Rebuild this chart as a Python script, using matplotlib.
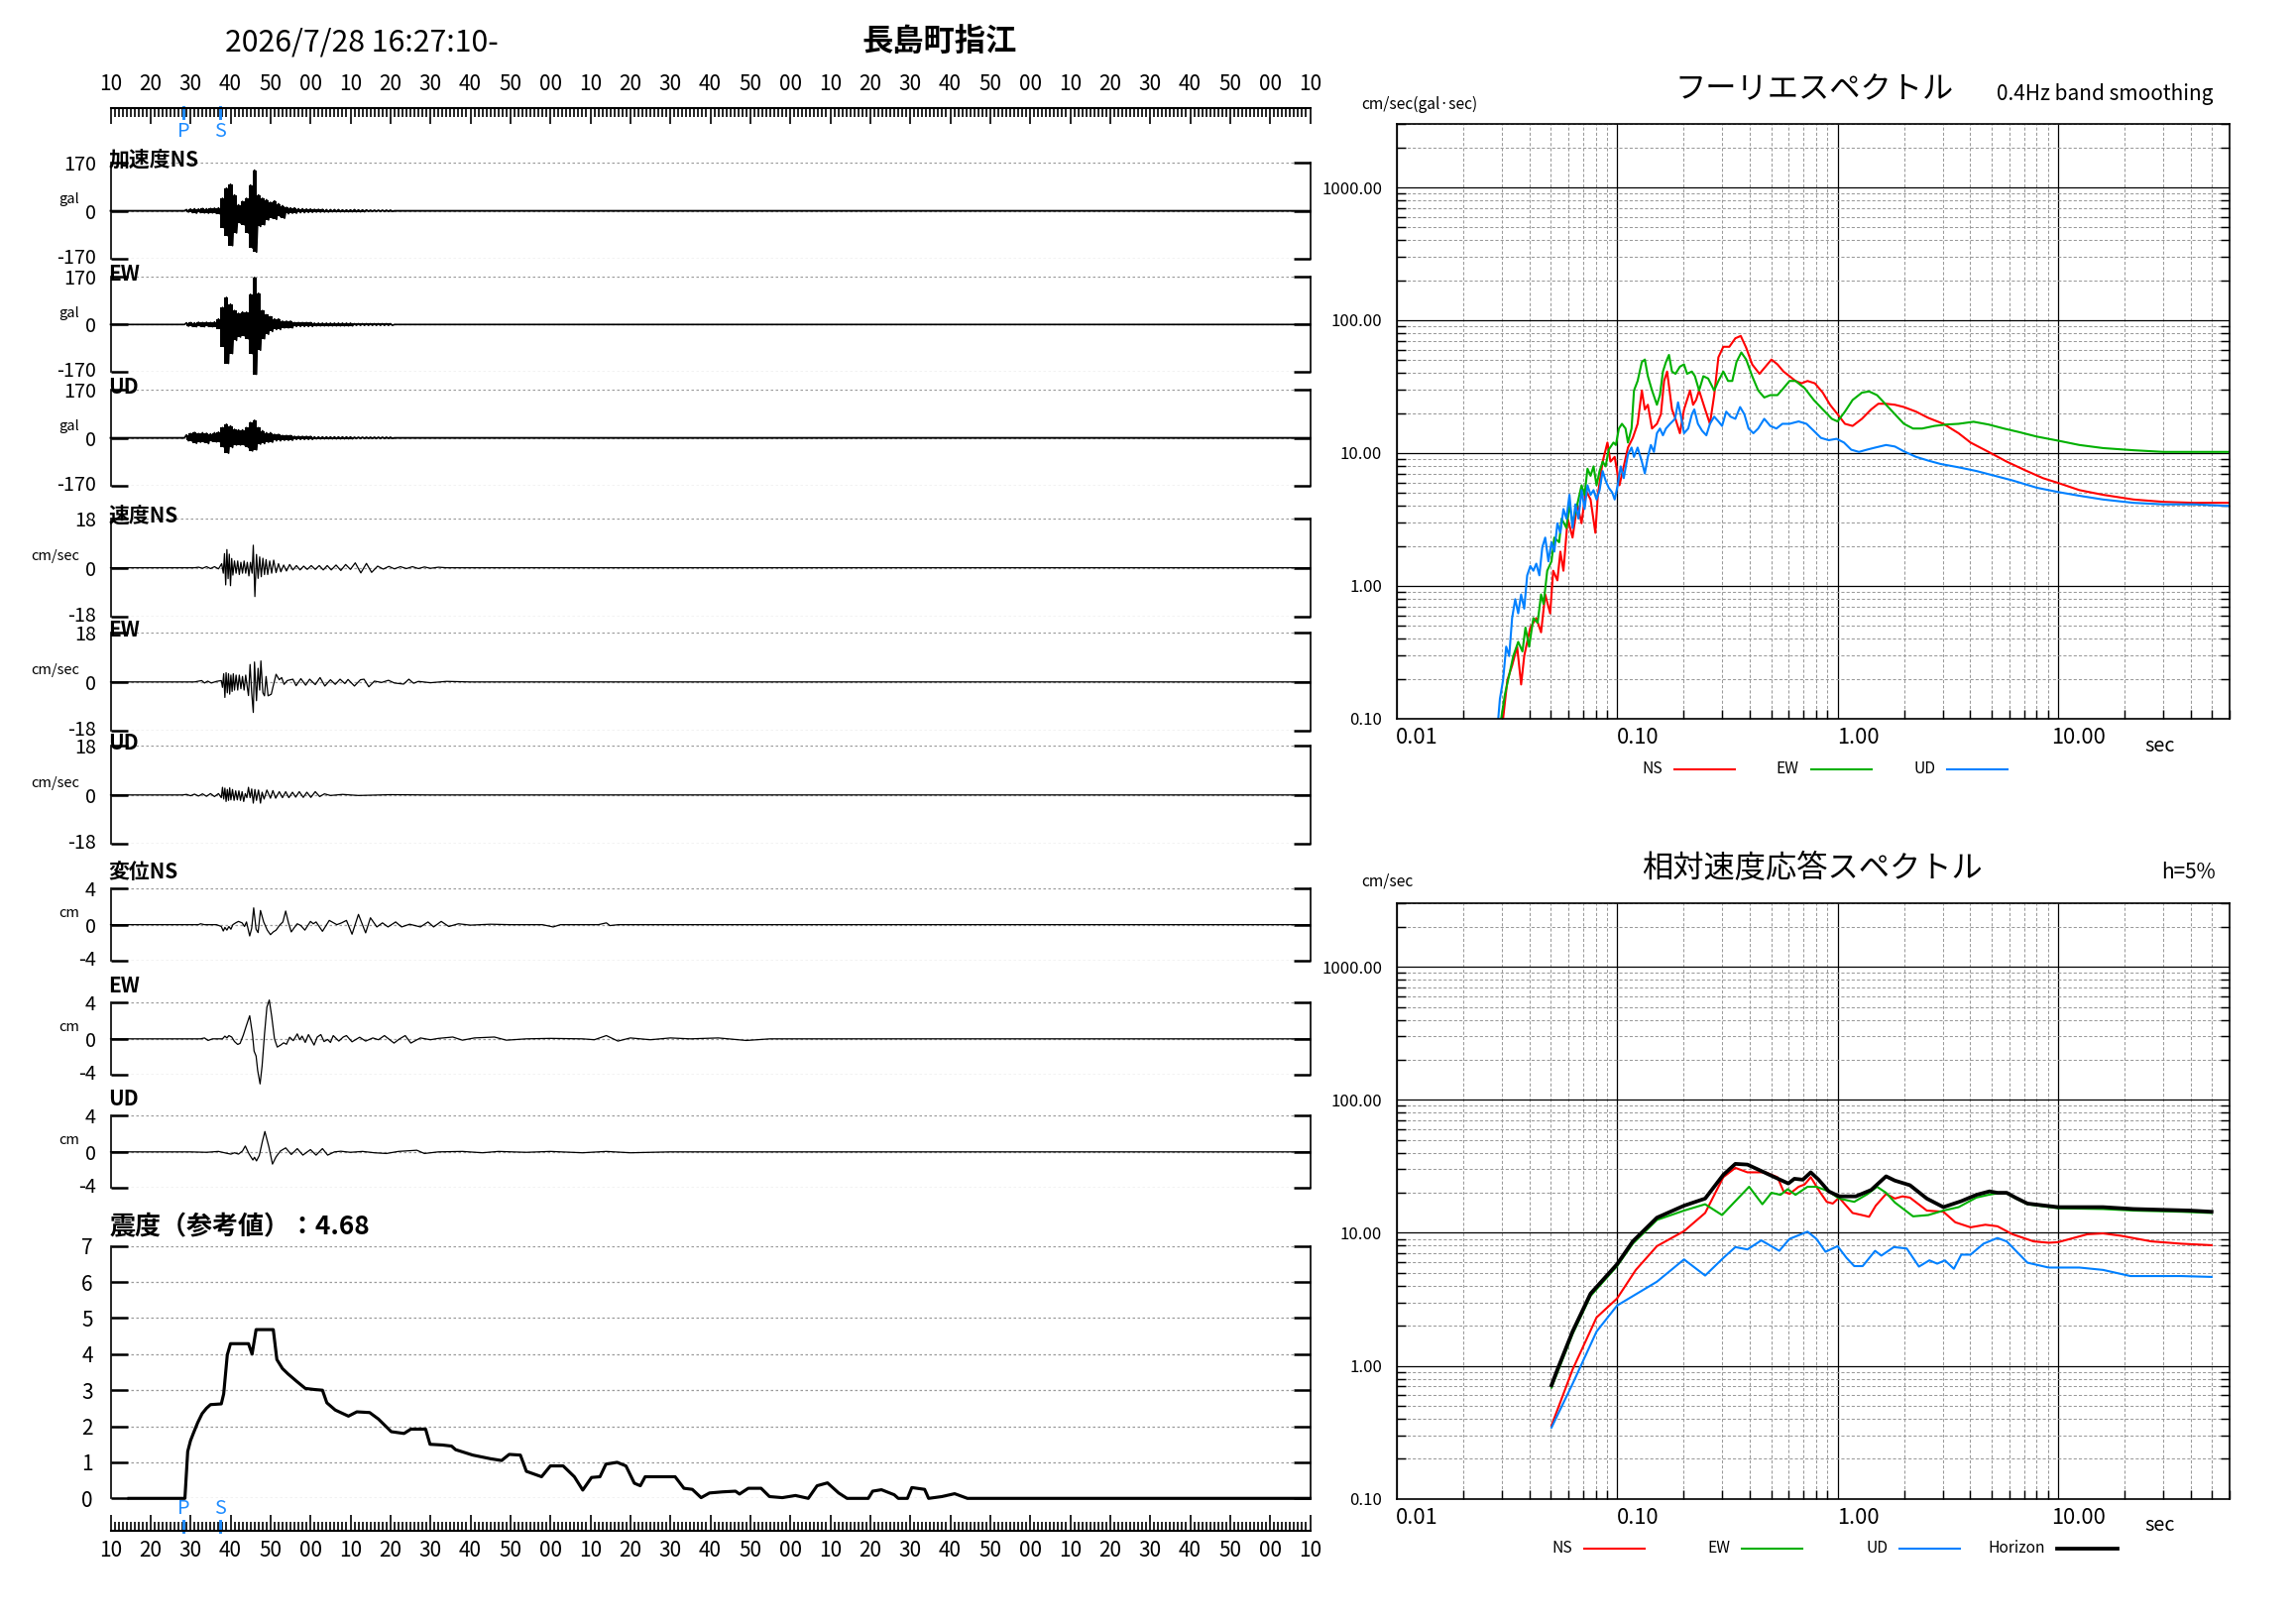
import matplotlib
matplotlib.use('Agg')
import matplotlib.pyplot as plt
from matplotlib.ticker import FixedLocator, LogLocator, NullFormatter
from matplotlib.transforms import ScaledTranslation
from matplotlib.lines import Line2D

plt.rcParams['font.family'] = ['Noto Sans CJK JP', 'DejaVu Sans']

# ---------------- data ----------------
start_sec = 10          # 16:27:10
p_time = 18.2
s_time = 27.4
intensity_value = 4.68

# acceleration envelope (gal), one value per second from 19 s to 70 s
acc_t = list(range(19, 71))
acc_ns_hi = [4, 6, 7, 6, 8, 7, 8, 9, 10, 44,
             80, 94, 56, 21, 33, 44, 91, 144, 56, 44,
             39, 30, 35, 25, 18, 12, 10, 10, 7, 7,
             6, 6, 5, 5, 5, 4, 4, 4, 4, 3,
             3, 3, 4, 3, 3, 3, 2, 2, 2, 2,
             2, 2]
acc_ns_lo = [-4, -6, -8, -6, -7, -8, -7, -9, -12, -61,
             -90, -123, -78, -43, -49, -78, -131, -146, -55, -49,
             -32, -25, -30, -20, -26, -10, -8, -8, -6, -6,
             -5, -5, -4, -4, -4, -4, -3, -3, -3, -3,
             -3, -3, -3, -3, -3, -2, -2, -2, -2, -2,
             -2, -2]
acc_ew_hi = [6, 7, 6, 8, 7, 8, 7, 9, 20, 61,
             97, 73, 50, 40, 45, 44, 108, 168, 112, 50,
             35, 28, 20, 20, 12, 12, 12, 7, 7, 7,
             7, 7, 5, 5, 5, 5, 5, 5, 5, 5,
             5, 5, 3, 3, 3, 3, 3, 3, 3, 3,
             3, 3]
acc_ew_lo = [-6, -7, -8, -6, -8, -7, -8, -8, -15, -80,
             -139, -104, -57, -45, -40, -51, -104, -178, -92, -51,
             -35, -25, -18, -18, -12, -12, -12, -7, -7, -7,
             -7, -7, -5, -5, -5, -5, -5, -5, -5, -5,
             -5, -5, -3, -3, -3, -3, -3, -3, -3, -3,
             -3, -3]
acc_ud_hi = [10, 15, 19, 15, 18, 16, 14, 18, 20, 36,
             48, 42, 30, 28, 28, 36, 54, 62, 36, 25,
             18, 18, 12, 12, 8, 8, 8, 5, 5, 5,
             5, 5, 3, 3, 3, 3, 3, 3, 3, 3,
             3, 3, 2, 2, 2, 2, 2, 2, 2, 2,
             2, 2]
acc_ud_lo = [-10, -12, -19, -15, -15, -20, -12, -14, -15, -34,
             -54, -34, -25, -25, -25, -34, -46, -42, -22, -20,
             -15, -15, -10, -10, -8, -8, -8, -5, -5, -5,
             -5, -5, -3, -3, -3, -3, -3, -3, -3, -3,
             -3, -3, -2, -2, -2, -2, -2, -2, -2, -2,
             -2, -2]

# velocity (cm/sec), (time s, value) at extrema
vel_ns = [(0, 0), (21, 0), (22, 0.2), (23, -0.2), (24, 0.4), (25, -0.3), (26, 0.4), (27, -0.4),
          (27.8, 1.5), (28.2, -2), (28.5, 5.2), (28.8, -6.3), (29.1, 6.7), (29.4, -4), (29.7, 5),
          (30, -6.6), (30.3, 3.4), (30.6, -2.7), (31, 2.5), (31.4, -2), (31.8, 2.5), (32.2, -2.5),
          (32.6, 2), (33, -2), (33.4, 2.5), (33.8, -2), (34.2, 2), (34.6, -3), (35, 2), (35.4, -2),
          (35.7, 8.3), (36.1, -10.6), (36.5, 4.9), (36.9, -3.9), (37.3, 4), (37.7, -3.3), (38.1, 3.5),
          (38.5, -2.5), (38.9, 3), (39.3, -2.5), (39.8, 2.5), (40.3, -2), (40.8, 2.8), (41.4, -1.8),
          (42, 1.5), (42.6, -1.5), (43.3, 1), (44, -1.2), (44.8, 1.2), (45.6, -0.8), (46.5, 0.8),
          (47.4, -0.8), (48.3, 0.6), (49.2, -0.6), (50.2, 0.8), (51.2, -0.6), (52.2, 0.8), (53.2, -0.8),
          (54.2, 0.8), (55.2, -0.8), (56.4, 1), (57.6, -1), (58.8, 1.2), (60, -0.6), (61.2, 1.8),
          (62.6, -1.9), (64, 1.6), (65.3, -1.7), (66.8, 0.6), (68.2, -0.5), (69.6, 0.5), (71, -0.4),
          (72.5, 0.4), (74, -0.3), (75.5, 0.4), (77, -0.3), (78.5, 0.3), (80, -0.2), (82, 0.2),
          (84, 0), (300, 0)]
vel_ew = [(0, 0), (21, 0), (22.8, 0.5), (23.5, -0.4), (24.3, 0.3), (25.2, -0.4), (26.5, 0.2),
          (27.7, 0.5), (28, -2), (28.3, 3), (28.6, -5.7), (28.9, 3.4), (29.2, -4), (29.5, 3),
          (29.8, -4.5), (30.1, 2.5), (30.4, -3.5), (30.7, 3), (31, -3), (31.4, 2.5), (31.8, -3),
          (32.2, 2.5), (32.6, -2.5), (33, 2), (33.4, -3), (33.8, 2.5), (34.2, -2), (34.5, -5),
          (34.9, 6.4), (35.3, -4), (35.7, -11.2), (36.0, 7.3), (36.5, -6.9), (36.9, 5), (37.3, -3),
          (37.6, 7.7), (38.1, -4), (38.5, -5.1), (38.9, 2), (39.4, -5.1), (40.2, -4.5), (40.6, -2),
          (41.4, 2.8), (42.2, 0.8), (42.8, 1.6), (43.4, -0.9), (44.2, 0.5), (45.6, 1), (46.4, -1.4),
          (47.6, 1.2), (48.8, -1.2), (49.8, 1), (51.2, -1), (52.4, 1.6), (53.6, -1.5), (55, 0.8),
          (56.2, -0.9), (57.4, 1), (58.6, -0.6), (59.4, 0.9), (61, -1.5), (62.5, 0.8), (63.4, 1),
          (64.6, -1.8), (66, 0.3), (67.8, -0.2), (69.5, 0.6), (71, -0.4), (73.3, -0.8), (74.6, 1),
          (75.8, -0.5), (77, 0.2), (80, -0.3), (84, 0.2), (90, 0), (300, 0)]
vel_ud = [(0, 0), (18, 0), (19, 0.2), (20, -0.3), (21, 0.3), (22, -0.4), (23, 0.4), (24, -0.5),
          (25, 0.5), (26, -0.6), (27, 0.5), (27.7, -1), (28, 2.8), (28.3, -1.5), (28.6, 2.5),
          (28.9, -2.4), (29.2, 2), (29.5, -2), (29.8, 2.6), (30.1, -1.8), (30.5, 2), (30.9, -2),
          (31.3, 1.5), (31.7, -1.8), (32.1, 1.5), (32.5, -2), (32.9, 1.2), (33.3, -2.4), (33.7, 0.5),
          (34.1, -1), (34.5, 2.8), (34.9, -1), (35.3, 2.2), (35.7, -3), (36.1, 2), (36.5, -2),
          (37, 1.8), (37.5, -3), (37.9, 1), (38.4, -1.5), (39.1, 1.8), (40, -1.2), (40.6, 1.6),
          (41.3, -1.2), (42.2, 1.2), (43, -1), (43.8, 1.2), (44.6, -1), (45.5, 1), (46.3, -0.8),
          (47.2, 1.2), (48.2, -0.9), (49.1, 1.0), (50.1, -0.9), (51.2, 1.2), (52.3, -0.6),
          (53.5, 0.4), (55, -0.2), (58, 0.2), (62, -0.2), (70, 0.1), (80, 0), (300, 0)]

# displacement (cm), (time s, value) at extrema
disp_ns = [(0, 0), (22, 0), (22.5, 0.1), (23.5, 0), (26.5, 0), (27.7, -0.2), (28.2, -0.7), (28.6, -0.3),
           (29.1, -0.6), (29.6, -0.2), (30.1, -0.5), (30.6, 0), (31.3, 0.2), (32.0, 0.36), (32.9, 0.2),
           (33.5, -0.2), (34.0, 0.3), (34.8, -1.24), (35.3, -0.4), (35.8, 1.85), (36.4, -0.5),
           (36.9, -0.87), (37.5, 1.56), (38.3, 0.3), (39.2, -0.6), (40.0, -1.1), (40.7, -0.8),
           (41.4, -0.6), (42.4, 0), (43.1, 0.3), (43.8, 1.5), (44.5, 0.2), (45.2, -0.8), (46.0, -0.3),
           (46.7, 0.1), (47.6, -0.1), (48.6, -0.6), (50.0, 0.36), (50.7, 0.1), (51.4, 0.3),
           (53.0, -0.73), (54.7, 0.47), (56.6, 0), (57.8, 0.2), (59.0, 0.47), (60.4, -1.05),
           (62.0, 1.13), (63.8, -0.9), (65.0, 0.76), (66.6, -0.25), (68.0, 0.2), (69.4, -0.25),
           (71.3, 0.3), (72.8, -0.25), (74.8, 0.05), (77.5, -0.25), (79.4, 0.3), (80.8, -0.25),
           (82.7, 0.36), (84.6, -0.2), (87, 0.1), (90, -0.05), (95, 0.05), (100, 0), (108, 0),
           (110.7, -0.25), (112.5, 0), (122, 0), (124, 0.2), (124.9, -0.1), (127, 0), (300, 0)]
disp_ew = [(0, 0), (22.5, 0), (23.5, 0.1), (24.4, -0.18), (25.5, 0), (28, 0), (28.6, 0.3), (29.1, 0.1),
           (29.6, 0.36), (30.3, 0.2), (31.0, -0.3), (31.8, -0.62), (32.4, -0.5), (33.2, 0.4),
           (34.0, 1.5), (34.8, 2.55), (35.5, 0.5), (35.9, -1.35), (36.4, -1.9), (36.8, -3.5),
           (37.4, -4.98), (37.9, -3), (38.5, 0.5), (39.1, 3.5), (39.7, 4.29), (40.3, 2.5), (41.0, 0),
           (41.7, -0.91), (42.5, -0.7), (43.3, -0.44), (44.0, -0.6), (44.8, 0.18), (45.7, -0.2),
           (46.7, 0.55), (47.3, -0.1), (47.9, 0.3), (48.7, -0.4), (49.5, 0.47), (50.9, -0.69),
           (51.7, 0.2), (52.6, 0.47), (53.4, -0.3), (54.3, -0.07), (55.0, -0.4), (55.7, 0.36),
           (57.1, -0.25), (58.2, 0.2), (59.0, 0.36), (60.4, -0.33), (62.3, 0.18), (63.8, -0.25),
           (65.6, 0.1), (67, -0.1), (68.5, 0.36), (70.9, -0.47), (72.3, 0), (73.7, 0.36),
           (75.1, -0.47), (77.5, 0.1), (80, -0.1), (82, 0.05), (85.6, 0.2), (88, -0.15), (91, 0.1),
           (96, 0.2), (99, -0.15), (104, 0), (110, 0.05), (118, 0), (121, -0.1), (124, 0.36),
           (126.9, -0.25), (130, 0.1), (135, -0.1), (140, 0.1), (145, 0), (152, 0.1), (159, -0.18),
           (165, 0), (300, 0)]
disp_ud = [(0, 0), (20, 0), (24, -0.05), (27, 0.05), (29, -0.15), (30.1, -0.25), (31, -0.1), (32, -0.25),
           (33.0, 0.1), (33.7, 0.65), (34.6, -0.2), (35.6, -0.9), (36.0, -0.6), (36.5, -1.0),
           (37.2, -0.4), (38.0, 1.2), (38.6, 2.25), (39.6, 0.55), (40.5, -1.35), (41.4, -0.55),
           (42.5, 0.1), (43.8, 0.44), (45.2, -0.29), (46.7, 0.36), (48.1, -0.36), (50.0, 0.25),
           (51.4, -0.36), (53.0, 0.36), (54.3, -0.36), (56, 0), (57.6, 0.07), (60, -0.05), (63, 0.05),
           (66, -0.1), (69, -0.18), (72, 0.05), (76.6, 0.18), (78.5, -0.18), (82, 0), (88, 0.05),
           (93, -0.1), (97, 0.05), (104, -0.05), (110, 0.05), (118, -0.1), (124, 0.05), (130, -0.1),
           (140, 0), (300, 0)]

# seismic intensity (reference value) vs time
intensity = [(4.6, 0), (18.6, 0), (19.3, 1.3), (20.0, 1.6), (20.7, 1.8), (21.8, 2.1), (22.9, 2.35),
             (24.0, 2.5), (25, 2.6), (27.7, 2.62), (28.3, 2.9), (29.2, 3.98), (30, 4.29), (34.5, 4.29),
             (35.4, 4.0), (36.4, 4.68), (40.7, 4.68), (41.6, 3.85), (43, 3.6), (44.4, 3.45), (46.5, 3.25),
             (48.7, 3.05), (50.9, 3.02), (53, 3.0), (54.1, 2.65), (56.2, 2.45), (59.5, 2.28), (61.6, 2.4),
             (64.8, 2.38), (67, 2.2), (70.2, 1.85), (73.4, 1.8), (75.1, 1.92), (78.8, 1.92), (79.9, 1.5),
             (83, 1.48), (85.3, 1.45), (86.3, 1.35), (90.6, 1.2), (95, 1.1), (97.8, 1.05), (99.7, 1.22),
             (102.5, 1.2), (104, 0.75), (107.8, 0.6), (110, 0.9), (113.2, 0.9), (116, 0.6), (118.1, 0.23),
             (120.3, 0.58), (122.4, 0.6), (123.9, 0.95), (126.7, 1.0), (128.9, 0.9), (131, 0.42),
             (132.5, 0.35), (133.7, 0.6), (141.2, 0.6), (143.4, 0.28), (145.5, 0.25), (147.7, 0.02),
             (149.8, 0.15), (153, 0.18), (156.3, 0.2), (157.3, 0.12), (159.5, 0.28), (162.7, 0.28),
             (164.8, 0.05), (168, 0.02), (171.3, 0.08), (174.5, 0.0), (176.7, 0.35), (179.3, 0.43),
             (182.1, 0.15), (184.2, 0.0), (189.5, 0.0), (190.6, 0.2), (192.8, 0.24), (196, 0.1),
             (197, 0.0), (199.3, 0.0), (200.4, 0.3), (203.6, 0.25), (204.6, 0.0), (207.9, 0.05),
             (211.1, 0.13), (214.3, 0.0), (300, 0.0)]

# Fourier spectrum, (period s, amplitude cm/sec)
four_ns = [(0.0304, 0.10), (0.0318, 0.196), (0.0334, 0.251), (0.0352, 0.349), (0.0367, 0.181),
           (0.0379, 0.296), (0.0391, 0.379), (0.0404, 0.485), (0.0430, 0.572), (0.0452, 0.447),
           (0.0472, 0.862), (0.0497, 0.621), (0.0513, 1.30), (0.0536, 1.10), (0.0553, 1.81),
           (0.0571, 1.30), (0.0597, 3.21), (0.0628, 2.31), (0.0660, 4.11), (0.0690, 2.96),
           (0.0721, 5.26), (0.0758, 4.47), (0.0797, 2.51), (0.0818, 4.85), (0.0860, 8.62),
           (0.0904, 12.0), (0.0933, 8.62), (0.0975, 9.36), (0.1025, 5.72), (0.1072, 7.94),
           (0.112, 11.0), (0.1178, 13.0), (0.1239, 16.6), (0.1295, 29.6), (0.1336, 21.3),
           (0.1379, 23.1), (0.144, 15.3), (0.1516, 16.6), (0.158, 19.6), (0.1634, 34.9),
           (0.1686, 41.1), (0.1774, 21.3), (0.184, 18.1), (0.1927, 14.1), (0.2012, 21.3),
           (0.2143, 29.6), (0.2212, 23.1), (0.2282, 25.1), (0.2355, 29.6), (0.2508, 21.3),
           (0.2637, 16.6), (0.2757, 27.3), (0.2881, 52.6), (0.3032, 63.1), (0.3229, 63.1),
           (0.3438, 73.1), (0.3638, 76.2), (0.385, 62.1), (0.41, 46.5), (0.4424, 39.5),
           (0.471, 44.7), (0.5015, 50.6), (0.534, 46.5), (0.5686, 41.1), (0.6054, 37.9),
           (0.6446, 34.9), (0.6864, 33.5), (0.7309, 34.9), (0.789, 33.5), (0.8569, 28.5),
           (0.9243, 23.1), (1.0, 19.6), (1.08, 16.6), (1.17, 16.0), (1.29, 18.1), (1.42, 21.3),
           (1.53, 23.5), (1.66, 23.5), (1.82, 23.1), (2.0, 22.2), (2.27, 20.5), (2.58, 18.4),
           (3.02, 16.6), (3.54, 14.1), (4.01, 12.0), (4.84, 10.2), (5.85, 8.62), (7.07, 7.44),
           (8.55, 6.47), (10.0, 5.96), (12.5, 5.26), (16.0, 4.85), (22.0, 4.47), (30.1, 4.29),
           (41.3, 4.22), (59.4, 4.22)]
four_ew = [(0.0298, 0.10), (0.031, 0.153), (0.0324, 0.213), (0.0338, 0.296), (0.0356, 0.379),
           (0.0372, 0.321), (0.0384, 0.485), (0.0399, 0.349), (0.0417, 0.572), (0.0436, 0.527),
           (0.0452, 0.862), (0.0464, 0.731), (0.0482, 1.30), (0.0504, 1.53), (0.0519, 2.31),
           (0.0546, 2.13), (0.056, 3.21), (0.0589, 2.73), (0.0608, 4.11), (0.0628, 2.96),
           (0.066, 4.11), (0.069, 5.72), (0.0712, 4.85), (0.0734, 7.62), (0.0758, 6.74),
           (0.0782, 7.94), (0.0807, 5.72), (0.0833, 7.32), (0.086, 8.62), (0.0887, 7.94),
           (0.0916, 10.6), (0.0963, 12.0), (0.0987, 11.5), (0.1019, 15.3), (0.1052, 16.6),
           (0.1092, 15.3), (0.112, 12.0), (0.1163, 15.3), (0.1193, 29.6), (0.1239, 34.9),
           (0.1295, 48.5), (0.1336, 50.6), (0.1379, 37.9), (0.144, 29.6), (0.1516, 23.1),
           (0.1564, 27.3), (0.1614, 41.1), (0.1666, 48.5), (0.1719, 54.8), (0.1774, 41.1),
           (0.184, 39.5), (0.1927, 44.7), (0.2012, 46.5), (0.2077, 39.5), (0.2184, 41.1),
           (0.2254, 37.9), (0.2355, 29.6), (0.2462, 37.9), (0.2589, 36.4), (0.2757, 29.6),
           (0.2881, 34.9), (0.3032, 41.1), (0.3187, 34.9), (0.333, 34.9), (0.348, 48.5),
           (0.366, 57.2), (0.385, 50.6), (0.41, 37.9), (0.4365, 29.6), (0.465, 26.2),
           (0.4955, 27.3), (0.534, 27.3), (0.5686, 30.8), (0.6054, 34.9), (0.6446, 34.9),
           (0.709, 30.8), (0.78, 25.1), (0.857, 21.3), (0.942, 18.1), (1.0, 17.3), (1.08, 20.5),
           (1.17, 25.1), (1.29, 28.5), (1.39, 29.1), (1.51, 27.3), (1.66, 23.1), (1.82, 19.6),
           (2.0, 16.6), (2.2, 15.3), (2.42, 15.3), (2.75, 16.0), (3.12, 16.4), (3.54, 16.6),
           (4.14, 17.2), (4.84, 16.4), (5.68, 15.3), (6.64, 14.4), (8.02, 13.3), (10.0, 12.4),
           (12.5, 11.5), (16.0, 10.9), (22.0, 10.5), (30.1, 10.2), (41.3, 10.2), (59.4, 10.2)]
four_ud = [(0.0289, 0.10), (0.0294, 0.141), (0.0304, 0.196), (0.0314, 0.349), (0.0324, 0.296),
           (0.0334, 0.572), (0.0345, 0.794), (0.0356, 0.621), (0.0367, 0.862), (0.0379, 0.674),
           (0.0391, 1.2), (0.0404, 1.41), (0.0417, 1.30), (0.043, 1.47), (0.0444, 1.2),
           (0.0458, 1.96), (0.0472, 2.31), (0.0488, 1.53), (0.0504, 2.13), (0.0519, 1.81),
           (0.0536, 2.96), (0.0553, 2.51), (0.0571, 3.79), (0.0589, 3.21), (0.0608, 4.85),
           (0.0628, 2.73), (0.0647, 4.11), (0.0668, 3.21), (0.069, 5.26), (0.0712, 3.79),
           (0.0734, 5.72), (0.0758, 4.85), (0.0782, 5.26), (0.0807, 4.47), (0.0833, 5.26),
           (0.086, 7.32), (0.0887, 6.21), (0.0916, 5.48), (0.095, 5.06), (0.0975, 4.47),
           (0.1006, 5.72), (0.1038, 7.94), (0.1072, 6.47), (0.112, 9.76), (0.1163, 11.0),
           (0.1193, 9.36), (0.1239, 11.0), (0.1295, 8.62), (0.1336, 7.02), (0.1379, 9.36),
           (0.1423, 11.5), (0.1469, 10.2), (0.1516, 14.1), (0.1564, 15.3), (0.1614, 13.6),
           (0.1666, 15.3), (0.174, 16.6), (0.1831, 18.1), (0.189, 24.1), (0.195, 18.8),
           (0.2012, 14.1), (0.2102, 15.3), (0.2184, 19.6), (0.224, 21.3), (0.2326, 16.6),
           (0.2431, 14.7), (0.254, 13.6), (0.2637, 16.6), (0.2757, 18.8), (0.2881, 17.3),
           (0.2993, 16.0), (0.3126, 20.5), (0.3269, 18.8), (0.3438, 18.1), (0.3614, 22.2),
           (0.3777, 19.6), (0.3946, 15.3), (0.4152, 14.1), (0.4365, 15.3), (0.465, 18.1),
           (0.4955, 16.0), (0.528, 15.3), (0.562, 16.6), (0.6054, 16.6), (0.666, 17.3),
           (0.723, 16.6), (0.78, 14.7), (0.841, 13.0), (0.912, 12.5), (0.99, 12.8), (1.069, 12.0),
           (1.153, 10.6), (1.25, 10.2), (1.358, 10.6), (1.483, 11.0), (1.66, 11.5), (1.82, 11.2),
           (2.0, 10.3), (2.27, 9.36), (2.58, 8.77), (2.93, 8.28), (3.54, 7.81), (4.27, 7.32),
           (5.17, 6.74), (6.24, 6.21), (8.02, 5.48), (10.0, 5.09), (12.5, 4.77), (16.0, 4.47),
           (22.0, 4.22), (30.1, 4.11), (41.3, 4.11), (59.4, 4.0)]

# relative velocity response spectrum h=5%, (period s, cm/sec)
resp_ns = [(0.0504, 0.355), (0.0628, 0.936), (0.0807, 2.31), (0.1, 3.21), (0.1216, 5.26), (0.1516, 7.94),
           (0.2012, 10.3), (0.2508, 14.1), (0.3032, 26.2), (0.3438, 30.8), (0.39, 28.5), (0.471, 28.5),
           (0.534, 26.2), (0.5686, 20.5), (0.6054, 19.6), (0.666, 22.2), (0.709, 23.1), (0.756, 26.2),
           (0.828, 20.5), (0.893, 17.1), (0.951, 16.6), (1.016, 18.4), (1.17, 14.1), (1.29, 13.6),
           (1.39, 13.2), (1.49, 16.0), (1.66, 19.6), (1.82, 18.1), (1.97, 18.8), (2.13, 18.4),
           (2.54, 14.7), (3.02, 14.4), (3.42, 12.0), (4.01, 11.0), (4.68, 11.5), (5.31, 11.2),
           (6.21, 9.76), (7.75, 8.62), (9.07, 8.42), (10.0, 8.5), (13.6, 9.76), (16.0, 9.9),
           (19.3, 9.5), (26.5, 8.62), (36.3, 8.28), (49.7, 8.07)]
resp_ew = [(0.0504, 0.685), (0.0628, 1.73), (0.0758, 3.35), (0.1, 5.62), (0.1178, 8.28), (0.1516, 12.5),
           (0.2012, 14.7), (0.2508, 16.4), (0.2993, 13.6), (0.3438, 17.3), (0.397, 22.2), (0.456, 16.4),
           (0.5015, 20.0), (0.551, 19.3), (0.594, 21.3), (0.6446, 19.3), (0.7309, 22.2), (0.802, 22.2),
           (0.912, 20.5), (1.016, 18.1), (1.19, 17.1), (1.37, 19.6), (1.51, 22.2), (1.66, 20.0),
           (1.82, 16.9), (2.2, 13.3), (2.58, 13.6), (3.02, 14.7), (3.54, 15.6), (4.26, 18.4),
           (4.83, 19.3), (5.31, 19.8), (5.85, 19.8), (6.41, 18.2), (7.27, 16.4), (10.0, 15.3),
           (16.0, 15.1), (22.0, 14.7), (36.3, 14.4), (49.7, 14.1)]
resp_ud = [(0.0504, 0.343), (0.0628, 0.731), (0.0807, 1.81), (0.1, 2.84), (0.1516, 4.29), (0.2012, 6.31),
           (0.2508, 4.77), (0.3032, 6.47), (0.3438, 7.81), (0.39, 7.5), (0.451, 8.77), (0.544, 7.32),
           (0.6054, 9.0), (0.7309, 10.2), (0.802, 9.0), (0.882, 7.2), (1.0, 7.94), (1.099, 6.47),
           (1.19, 5.62), (1.30, 5.62), (1.48, 7.32), (1.58, 6.74), (1.80, 7.81), (2.06, 7.62),
           (2.34, 5.57), (2.61, 6.21), (2.83, 5.86), (3.07, 6.2), (3.37, 5.36), (3.64, 6.85),
           (4.01, 6.85), (4.59, 8.28), (5.31, 9.14), (5.85, 8.62), (7.27, 5.96), (9.07, 5.48),
           (12.5, 5.48), (16.0, 5.26), (21.3, 4.73), (36.3, 4.73), (49.7, 4.66)]
resp_h = [(0.0504, 0.714), (0.0536, 0.936), (0.0628, 1.81), (0.0758, 3.49), (0.1, 5.81), (0.1178, 8.62),
          (0.1516, 13.0), (0.2012, 16.0), (0.2508, 18.1), (0.3032, 27.3), (0.3438, 33.0), (0.39, 32.6),
          (0.4424, 29.6), (0.518, 26.2), (0.598, 23.5), (0.637, 25.5), (0.696, 25.1), (0.756, 28.5),
          (0.82, 25.1), (0.912, 20.5), (1.016, 18.8), (1.21, 18.8), (1.42, 21.0), (1.66, 26.6),
          (1.82, 24.7), (2.13, 22.8), (2.54, 18.1), (3.02, 15.6), (3.64, 17.3), (4.26, 19.3),
          (4.89, 20.5), (5.31, 20.0), (5.85, 20.0), (6.41, 18.4), (7.27, 16.6), (10.0, 15.6),
          (16.0, 15.6), (22.0, 15.1), (39.8, 14.7), (49.7, 14.4)]

RED, GREEN, BLUE = '#ff0000', '#00b000', '#0080ff'
PS_BLUE = '#1e8cff'

# ---------------- figure ----------------
W, H, DPI = 2316, 1637, 150
fig = plt.figure(figsize=(W / DPI, H / DPI), dpi=DPI)
fig.patch.set_facecolor('white')


def rect(l, t, r, b):
    return [l / W, 1 - b / H, (r - l) / W, (b - t) / H]


def fx(x):
    return x / W


def fy(y):
    return 1 - y / H


XL, XR = 111.5, 1321.5


def unzip(pairs):
    return [p[0] for p in pairs], [p[1] for p in pairs]


def envelope(t, hi, lo):
    # zig-zag between the upper and lower envelope values, padded with the quiet part
    tt, vv = [0, t[0] - 0.5], [0, 0]
    for ti, h, l in zip(t, hi, lo):
        tt += [ti, ti + 0.5]
        vv += [h, l]
    tt += [t[-1] + 1, 300]
    vv += [0, 0]
    return tt, vv


fig.text(fx(227), fy(43), '2026/7/28 16:27:10-', fontsize=14.5, va='center', ha='left')
fig.text(fx(948), fy(42), '長島町指江', fontsize=15, va='center', ha='center', fontweight='bold')

rows = [
    ('加速度NS', 'gal', 170, (acc_t, acc_ns_hi, acc_ns_lo), 164.3, 261.0, 0.9, 1.5),
    ('EW', 'gal', 170, (acc_t, acc_ew_hi, acc_ew_lo), 279.3, 375.3, 0.8, 1.5),
    ('UD', 'gal', 170, (acc_t, acc_ud_hi, acc_ud_lo), 393.3, 490.0, 0.9, 1.5),
    ('速度NS', 'cm/sec', 18, unzip(vel_ns), 523.3, 622.0, 0.6, 1.5),
    ('EW', 'cm/sec', 18, unzip(vel_ew), 638.3, 737.3, 0.6, 1.5),
    ('UD', 'cm/sec', 18, unzip(vel_ud), 752.3, 851.3, 0.6, 1.5),
    ('変位NS', 'cm', 4, unzip(disp_ns), 896.0, 969.3, 0.6, 8),
    ('EW', 'cm', 4, unzip(disp_ew), 1011.3, 1084.3, 0.6, 8),
    ('UD', 'cm', 4, unzip(disp_ud), 1125.3, 1198.3, 0.6, 8),
]

for label, unit, lim, series, top, bot, lw, ldy in rows:
    ax = fig.add_axes(rect(XL, top, XR, bot))
    ax.set_xlim(0, 300)
    ax.set_ylim(-lim, lim)
    for y in (-lim, 0, lim):
        ax.axhline(y, color='#9a9a9a', ls=(0, (2, 2)), lw=0.6, zorder=0)
    if len(series) == 3:
        t, hi, lo = series
        ax.fill_between(t, lo, hi, step='mid', color='black', lw=0, clip_on=False)
        tt, vv = envelope(t, hi, lo)
    else:
        tt, vv = series
    ax.plot(tt, vv, color='black', lw=lw, clip_on=False)
    for s in ('top', 'bottom'):
        ax.spines[s].set_visible(False)
    for s in ('left', 'right'):
        ax.spines[s].set_linewidth(0.8)
    ax.set_xticks([])
    ax.set_yticks([-lim, 0, lim])
    ax.set_yticklabels([str(-lim), '0', str(lim)])
    ax.tick_params(axis='y', direction='in', length=8, width=1.2, left=True, right=True,
                   labelsize=9.5, pad=7)
    # bottom limit label sits slightly above its line, as in the reference
    ylabs = ax.get_yticklabels()
    ylabs[0].set_transform(ylabs[0].get_transform() +
                           ScaledTranslation(0, 1.5 / 72, fig.dpi_scale_trans))
    ax.annotate(label, xy=(0, 1), xycoords='axes fraction', xytext=(-1, ldy),
                textcoords='offset points', ha='left', va='center', fontsize=10,
                fontweight='bold')
    ax.annotate(unit, xy=(0, 0), xycoords=('axes fraction', 'data'), xytext=(-15, 5.5),
                textcoords='offset points', ha='right', va='center', fontsize=7)


def time_labels():
    return ['%02d' % ((start_sec + s) % 60) for s in range(0, 301, 10)]


def ruler(top, bot, side):
    ax = fig.add_axes(rect(XL, top, XR, bot))
    ax.set_xlim(0, 300)
    ax.set_ylim(0, 1)
    for s in ax.spines:
        ax.spines[s].set_visible(s == side)
    ax.spines[side].set_linewidth(1.0)
    ax.set_yticks([])
    ax.set_xticks(range(0, 301, 10))
    ax.set_xticks(range(0, 301, 1), minor=True)
    ax.set_xticklabels(time_labels())
    up = side == 'top'
    ax.tick_params(axis='x', which='both', direction='in', top=up, bottom=not up,
                   labeltop=up, labelbottom=not up, width=0.8)
    ax.tick_params(axis='x', which='major', length=7.5, labelsize=10, pad=6.5 if up else 4.5)
    ax.tick_params(axis='x', which='minor', length=4.3)
    return ax


r1 = ruler(109.3, 125.0, 'top')
for tm, name in ((p_time, 'P'), (s_time, 'S')):
    r1.axvline(tm, ymin=0.38, ymax=1.08, color=PS_BLUE, lw=1.4, clip_on=False)
    r1.annotate(name, xy=(tm, 0), xycoords=('data', 'axes fraction'), xytext=(0, -3.4),
                textcoords='offset points', ha='center', va='center', fontsize=9.5, color=PS_BLUE)

# intensity panel
axi = fig.add_axes(rect(XL, 1256.7, XR, 1511.3))
axi.set_xlim(0, 300)
axi.set_ylim(0, 7)
for y in range(0, 8):
    axi.axhline(y, color='#9a9a9a', ls=(0, (2, 2)), lw=0.6, zorder=0)
it, iv = unzip(intensity)
axi.plot(it, iv, color='black', lw=1.5, clip_on=False)
for s in ('top', 'bottom'):
    axi.spines[s].set_visible(False)
axi.set_xticks([])
axi.set_yticks(range(0, 8))
axi.tick_params(axis='y', direction='in', length=8, width=1.2, left=True, right=True,
                labelsize=10, pad=8.5)
fig.text(fx(111), fy(1238), '震度（参考値）：%.2f' % intensity_value, fontsize=12.5,
         va='center', ha='left', fontweight='bold')

r2 = ruler(1528.0, 1544.0, 'bottom')
for tm, name in ((p_time, 'P'), (s_time, 'S')):
    r2.axvline(tm, ymin=-0.06, ymax=0.62, color=PS_BLUE, lw=1.4, clip_on=False)
    r2.annotate(name, xy=(tm, 1), xycoords=('data', 'axes fraction'), xytext=(0, 3.0),
                textcoords='offset points', ha='center', va='center', fontsize=9.5, color=PS_BLUE)


# spectra
def spectrum(top, bot):
    ax = fig.add_axes(rect(1408.8, top, 2249.0, bot))
    ax.set_xscale('log')
    ax.set_yscale('log')
    ax.set_xlim(0.01, 60)
    ax.set_ylim(0.1, 3000)
    ax.xaxis.set_major_locator(FixedLocator([0.01, 0.1, 1, 10]))
    ax.xaxis.set_minor_locator(LogLocator(base=10, subs=range(2, 10), numticks=20))
    ax.yaxis.set_major_locator(FixedLocator([0.1, 1, 10, 100, 1000]))
    ax.yaxis.set_minor_locator(LogLocator(base=10, subs=range(2, 10), numticks=20))
    ax.xaxis.set_minor_formatter(NullFormatter())
    ax.yaxis.set_minor_formatter(NullFormatter())
    ax.set_xticklabels(['0.01', '0.10', '1.00', '10.00'])
    ax.set_yticklabels(['0.10', '1.00', '10.00', '100.00', '1000.00'])
    ax.grid(which='major', color='black', lw=0.6)
    ax.grid(which='minor', color='#9a9a9a', ls=(0, (3, 2)), lw=0.5)
    ax.set_axisbelow(True)
    ax.tick_params(which='major', length=0, labelsize=8, pad=7)
    ax.tick_params(axis='x', which='major', labelsize=10.5, pad=4)
    ax.tick_params(which='minor', direction='in', length=4.3, width=0.7,
                   left=True, right=True, bottom=True, top=False)
    for lab in ax.get_xticklabels():
        lab.set_transform(lab.get_transform() + ScaledTranslation(10 / 72, 0, fig.dpi_scale_trans))
    for s in ax.spines.values():
        s.set_linewidth(0.8)
    return ax


def legend(items, x_line0, pitch, y):
    for i, (name, color, lw) in enumerate(items):
        x0 = x_line0 + i * pitch
        fig.add_artist(Line2D([fx(x0), fx(x0 + 61)], [fy(y), fy(y)], color=color, lw=lw,
                              transform=fig.transFigure))
        fig.text(fx(x0 - 12), fy(y), name, fontsize=7.5, ha='right', va='center')


ax1 = spectrum(125.1, 724.9)
for data, c in ((four_ns, RED), (four_ew, GREEN), (four_ud, BLUE)):
    x, y = unzip(data)
    ax1.plot(x, y, color=c, lw=1.0)
fig.text(fx(1830), fy(90.7), 'フーリエスペクトル', fontsize=15, ha='center', va='center')
fig.text(fx(2014), fy(95.4), '0.4Hz band smoothing', fontsize=10, ha='left', va='center')
fig.text(fx(1373), fy(105), 'cm/sec(gal·sec)', fontsize=7.5, ha='left', va='center')
fig.text(fx(2179), fy(752), 'sec', fontsize=9.5, ha='center', va='center')
legend([('NS', RED, 1.0), ('EW', GREEN, 1.0), ('UD', BLUE, 1.0)], 1689, 137.5, 776)

ax2 = spectrum(911.2, 1511.7)
for data, c, lw in ((resp_ns, RED, 1.0), (resp_ew, GREEN, 1.0), (resp_ud, BLUE, 1.0),
                    (resp_h, 'black', 1.8)):
    x, y = unzip(data)
    ax2.plot(x, y, color=c, lw=lw)
fig.text(fx(1828), fy(876.3), '相対速度応答スペクトル', fontsize=15, ha='center', va='center')
fig.text(fx(2180), fy(879.7), 'h=5%', fontsize=10, ha='left', va='center')
fig.text(fx(1373), fy(889), 'cm/sec', fontsize=7.5, ha='left', va='center')
fig.text(fx(2179), fy(1539), 'sec', fontsize=9.5, ha='center', va='center')
legend([('NS', RED, 1.0), ('EW', GREEN, 1.0), ('UD', BLUE, 1.0), ('Horizon', 'black', 1.8)],
       1598, 159, 1561.5)

fig.savefig('out.png', dpi=DPI)
